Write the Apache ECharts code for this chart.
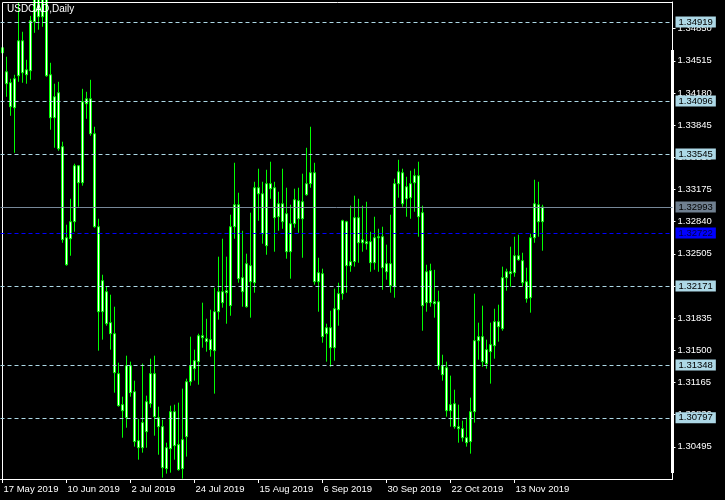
<!DOCTYPE html>
<html><head><meta charset="utf-8">
<script src="https://cdn.jsdelivr.net/npm/echarts@6/dist/echarts.min.js"></script>
<style>html,body{margin:0;padding:0;background:#000;}#c{width:725px;height:500px;}</style>
</head><body><div id="c"></div>
<script>
const symbolName = 'USDCAD,Daily';
const tickLabels = ['17 May 2019','10 Jun 2019','2 Jul 2019','24 Jul 2019','15 Aug 2019','6 Sep 2019','30 Sep 2019','22 Oct 2019','13 Nov 2019'];
const open = [1.34650,1.34400,1.34286,1.34026,1.34359,1.34723,1.34369,1.34411,1.34921,1.35260,1.34973,1.35180,1.34369,1.33922,1.34182,1.33620,1.32672,1.32662,1.32839,1.33422,1.33245,1.34067,1.34119,1.33755,1.32787,1.31902,1.32110,1.31788,1.31673,1.31257,1.30934,1.30799,1.31340,1.31069,1.30559,1.30486,1.30653,1.30944,1.31257,1.30799,1.30705,1.30268,1.30476,1.30861,1.30518,1.30268,1.30601,1.31173,1.31309,1.31382,1.31652,1.31621,1.31611,1.31496,1.31902,1.32110,1.32100,1.31965,1.32787,1.33016,1.32256,1.31954,1.32381,1.32204,1.33193,1.33130,1.32589,1.33235,1.33193,1.32891,1.33026,1.32922,1.32527,1.32818,1.33058,1.32870,1.33120,1.33235,1.33349,1.32214,1.32298,1.31673,1.31735,1.31527,1.31922,1.32090,1.32839,1.32381,1.32423,1.32881,1.32620,1.32631,1.32631,1.32412,1.32672,1.32683,1.32402,1.32402,1.32162,1.33235,1.33349,1.33078,1.33089,1.33245,1.33318,1.32933,1.31996,1.32329,1.32006,1.32006,1.31340,1.31319,1.30871,1.30944,1.30705,1.30684,1.30590,1.30549,1.30861,1.31600,1.31642,1.31361,1.31486,1.31548,1.31798,1.31725,1.32256,1.32318,1.32308,1.32485,1.32433,1.32214,1.32048,1.32672,1.33016,1.32839];
const high = [1.34682,1.34557,1.34328,1.34369,1.35119,1.34817,1.34525,1.34983,1.35420,1.35350,1.35660,1.35300,1.34494,1.34276,1.34296,1.33672,1.32808,1.33078,1.33443,1.33430,1.34223,1.34192,1.34317,1.33828,1.32870,1.32287,1.32162,1.32079,1.31954,1.31371,1.31017,1.31444,1.31382,1.31184,1.30788,1.31361,1.31028,1.31413,1.31444,1.30913,1.30778,1.30538,1.30923,1.30934,1.30955,1.31101,1.31205,1.31642,1.31507,1.31673,1.31996,1.31829,1.31923,1.32152,1.32475,1.32662,1.32475,1.32912,1.33453,1.33141,1.32745,1.32506,1.32933,1.33255,1.33391,1.33255,1.33380,1.33464,1.33255,1.33151,1.33391,1.33193,1.33016,1.33183,1.33193,1.33339,1.33609,1.33828,1.33453,1.32464,1.32350,1.31777,1.31912,1.32142,1.32204,1.32860,1.32849,1.33006,1.33110,1.33078,1.33006,1.33047,1.32735,1.32891,1.32766,1.32787,1.32600,1.32912,1.33287,1.33484,1.33391,1.33307,1.33370,1.33391,1.33464,1.33006,1.32391,1.32402,1.32338,1.32121,1.31454,1.31382,1.31236,1.31090,1.30934,1.30767,1.30799,1.31007,1.32090,1.31788,1.31965,1.31611,1.31788,1.31933,1.31975,1.32371,1.32350,1.32579,1.32683,1.32704,1.32516,1.32360,1.32714,1.33276,1.33255,1.33016];
const low = [1.34546,1.34140,1.33942,1.33557,1.34296,1.34286,1.34276,1.34317,1.34806,1.34838,1.34869,1.34348,1.33797,1.33609,1.33578,1.32620,1.32381,1.32485,1.32735,1.32995,1.33214,1.33911,1.33734,1.32777,1.31496,1.31611,1.31756,1.31507,1.31059,1.30913,1.30590,1.30694,1.31017,1.30497,1.30361,1.30434,1.30486,1.30903,1.30611,1.30413,1.30174,1.30216,1.30226,1.30361,1.30247,1.30164,1.30393,1.31132,1.31184,1.31142,1.31527,1.31486,1.31434,1.31049,1.31819,1.31944,1.31777,1.31860,1.32662,1.32204,1.31954,1.31944,1.31840,1.32100,1.32849,1.32610,1.32495,1.33078,1.32527,1.32745,1.32766,1.32454,1.32246,1.32777,1.32724,1.32464,1.33110,1.33193,1.32183,1.31902,1.31579,1.31382,1.31329,1.31392,1.31756,1.32027,1.32100,1.32318,1.32371,1.32412,1.32527,1.32548,1.32318,1.32339,1.32318,1.32131,1.32235,1.32100,1.32048,1.33089,1.32995,1.32891,1.32870,1.32943,1.32683,1.31704,1.31902,1.31954,1.31840,1.31298,1.31184,1.30809,1.30705,1.30684,1.30538,1.30549,1.30497,1.30424,1.30747,1.31402,1.31329,1.31309,1.31153,1.31413,1.31590,1.31704,1.32121,1.32162,1.32266,1.32433,1.32162,1.31996,1.31892,1.32620,1.32683,1.32537];
const close = [1.34598,1.34276,1.34036,1.34328,1.34723,1.34390,1.34421,1.34931,1.35260,1.34973,1.35180,1.34359,1.33922,1.34140,1.33599,1.32652,1.32391,1.32839,1.33422,1.33245,1.34088,1.34119,1.33755,1.32787,1.31902,1.32225,1.31777,1.31673,1.31267,1.30924,1.30871,1.31340,1.31059,1.30549,1.30486,1.30747,1.30965,1.31257,1.30809,1.30705,1.30278,1.30486,1.30861,1.30507,1.30257,1.30570,1.31173,1.31340,1.31392,1.31652,1.31631,1.31590,1.31507,1.31902,1.32110,1.31996,1.32121,1.32787,1.33016,1.32246,1.32110,1.32402,1.32214,1.33193,1.33130,1.32714,1.33235,1.33183,1.32881,1.33026,1.32839,1.32527,1.32818,1.33068,1.32870,1.33047,1.33235,1.33349,1.32214,1.32308,1.31642,1.31735,1.31527,1.31933,1.32090,1.32849,1.32381,1.32423,1.32881,1.32620,1.32652,1.32610,1.32412,1.32672,1.32683,1.32360,1.32318,1.32173,1.33235,1.33359,1.33026,1.33203,1.33235,1.33318,1.32891,1.31965,1.32318,1.31996,1.31985,1.31340,1.31246,1.30871,1.30934,1.30705,1.30684,1.30590,1.30538,1.30861,1.31600,1.31642,1.31382,1.31507,1.31559,1.31798,1.31746,1.32256,1.32318,1.32298,1.32485,1.32443,1.32204,1.32037,1.32672,1.33026,1.32839,1.32993];
const levels = [1.34919,1.34096,1.33545,1.32171,1.31348,1.30797];
const bidLevel = 1.32993;
const blueLevel = 1.32722;
const axisMin = 1.30160, axisMax = 1.35127, axisStep = 0.00335;
const slotCount = 168;

const monthNames = ['Jan','Feb','Mar','Apr','May','Jun','Jul','Aug','Sep','Oct','Nov','Dec'];
const categories = [];
const d = new Date(Date.UTC(2019,4,17));
while (categories.length < open.length) {
  const wd = d.getUTCDay();
  if (wd !== 0 && wd !== 6) categories.push(d.getUTCDate() + ' ' + monthNames[d.getUTCMonth()] + ' ' + d.getUTCFullYear());
  d.setUTCDate(d.getUTCDate() + 1);
}
while (categories.length < slotCount) categories.push('');
const ohlc = open.map((o, i) => [o, close[i], low[i], high[i]]);
const showTick = (idx) => tickLabels.indexOf(categories[idx]) >= 0;

const FONT = 'Liberation Sans';
function boxLabel(v, bg, fg) {
  return {show: true, position: 'end', distance: 3, formatter: () => v.toFixed(5),
    backgroundColor: bg, color: fg, fontSize: 9.5, fontFamily: FONT,
    padding: [1, 3, 0, 3], lineHeight: 10};
}
const mlData = levels.map(v => ({yAxis: v, lineStyle: {color: '#add8e6', type: [4, 3], width: 1}, label: boxLabel(v, '#add8e6', '#000')}));
mlData.push({yAxis: bidLevel, lineStyle: {color: '#778899', type: 'solid', width: 1}, label: boxLabel(bidLevel, '#708090', '#000')});
mlData.push({yAxis: blueLevel, lineStyle: {color: '#0000ff', type: [4, 3], width: 1}, label: boxLabel(blueLevel, '#0000ff', '#000040')});

const chart = echarts.init(document.getElementById('c'));
chart.setOption({
  backgroundColor: '#000',
  animation: false,
  textStyle: {fontFamily: FONT},
  title: {text: symbolName, left: 7, top: 4, padding: 0, textStyle: {color: '#fff', fontSize: 10, fontWeight: 'normal', fontFamily: FONT}},
  grid: {left: 0.5, right: 52.5, top: 2, bottom: 21},
  xAxis: {type: 'category', data: categories, boundaryGap: true,
    axisLine: {lineStyle: {color: '#fff', width: 1}},
    axisTick: {show: true, alignWithLabel: true, length: 4, interval: showTick, lineStyle: {color: '#fff'}},
    axisLabel: {interval: showTick, color: '#fff', fontSize: 9.5, fontFamily: FONT, align: 'left', margin: 5, padding: [0, 0, 0, 1]},
    splitLine: {show: false}},
  yAxis: {type: 'value', position: 'right', min: axisMin, max: axisMax, interval: axisStep, zlevel: 0, z: 0,
    axisLine: {show: true, lineStyle: {color: '#fff'}},
    axisTick: {show: true, length: 3, lineStyle: {color: '#fff'}},
    axisLabel: {color: '#fff', fontSize: 9.5, fontFamily: FONT, margin: 5, showMinLabel: false, showMaxLabel: false, formatter: v => v.toFixed(5)},
    splitLine: {show: false}},
  series: [
    {type: 'candlestick', data: ohlc, barWidth: 2, clip: true, z: 3,
      itemStyle: {color: '#ffffff', color0: '#ffffff', borderColor: '#00ff00', borderColor0: '#00ff00', borderWidth: 1}},
    {type: 'line', data: [], zlevel: 1, z: 2, silent: true,
      markLine: {silent: true, zlevel: 1, z: 10, precision: 5, symbol: ['none', 'none'], animation: false, data: mlData}}
  ],
  graphic: [
    {type: 'rect', z: 100, silent: true, shape: {x: 2.5, y: 2.5, width: 670, height: 477}, style: {fill: null, stroke: '#fff', lineWidth: 1}},
    {type: 'rect', z: 100, silent: true, shape: {x: 671, y: 50, width: 3, height: 423}, style: {fill: '#fff'}}
  ]
});
</script></body></html>
